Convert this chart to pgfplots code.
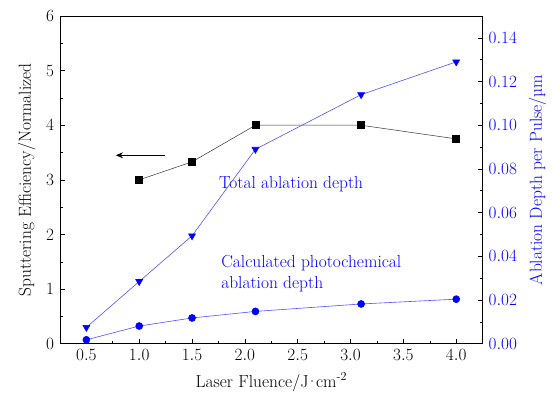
\documentclass[border=0pt]{standalone}
\usepackage{pgfplots}
\pgfplotsset{compat=1.18}
\usetikzlibrary{arrows.meta}
\definecolor{myblue}{RGB}{0,0,255}
\definecolor{lineblue}{RGB}{80,80,255}
\newcommand{\ff}{\fontsize{17.5}{21}\selectfont}
\begin{document}
\ff
\begin{tikzpicture}
\pgfplotsset{every axis/.append style={
  scale only axis, width=423bp, height=328bp,
  xmin=0.25, xmax=4.25,
  tick align=inside,
  axis line style={line width=0.8bp},
  major tick length=5bp, minor tick length=3bp,
  every tick/.style={black, line width=0.6bp},
  tick label style={font=\ff},
  label style={font=\ff},
}}
\begin{axis}[
  ymin=0, ymax=6,
  ytick={0,1,2,3,4,5,6},
  minor y tick num=1,
  xtick={0.5,1.0,1.5,2.0,2.5,3.0,3.5,4.0},
  minor x tick num=1,
  xticklabel style={/pgf/number format/fixed, /pgf/number format/fixed zerofill, /pgf/number format/precision=1},
  ytick pos=left, xtick pos=bottom,
  xlabel={Laser Fluence/J\kern-2.5bp·\kern-2.5bp cm\textsuperscript{-2}},
  ylabel={Sputtering Efficiency/Normalized},
  ylabel style={yshift=-1bp},
  clip=false,
]
\addplot[black!80, line width=0.5bp, mark=square*, mark size=3.5bp, mark options={black, solid}]
  coordinates {(1.0,3.0) (1.5,3.33) (2.1,4.0) (3.1,4.0) (4.0,3.75)};
\draw[black, line width=0.6bp, -{Stealth[length=7bp,width=6bp]}] (axis cs:1.24,3.45) -- (axis cs:0.78,3.45);
\node[anchor=west, text=myblue, font=\ff] at (axis cs:1.70,2.93) {Total ablation depth};
\node[anchor=west, align=left, text=myblue, font=\ff] at (axis cs:1.72,1.29) {Calculated photochemical\\ablation depth};
\end{axis}
\begin{axis}[
  ymin=0, ymax=0.15,
  ytick={0,0.02,0.04,0.06,0.08,0.10,0.12,0.14},
  minor y tick num=1,
  axis y line*=right,
  axis x line=none,
  yticklabel style={text=myblue, /pgf/number format/fixed, /pgf/number format/fixed zerofill, /pgf/number format/precision=2},
  ylabel={Ablation Depth per Pulse/\textmu m},
  ylabel style={text=myblue},
]
\addplot[lineblue, line width=0.6bp, mark=triangle*, mark size=4bp, mark options={myblue, solid, rotate=180}]
  coordinates {(0.5,0.0075) (1.0,0.0285) (1.5,0.0494) (2.1,0.089) (3.1,0.114) (4.0,0.129)};
\addplot[lineblue, line width=0.6bp, mark=*, mark size=3.5bp, mark options={myblue, solid}]
  coordinates {(0.5,0.0018) (1.0,0.0081) (1.5,0.0118) (2.1,0.0148) (3.1,0.0182) (4.0,0.0204)};
\end{axis}
\path ([shift={(-60bp,-51bp)}]current axis.south west) rectangle ([shift={(69bp,16bp)}]current axis.north east);
\end{tikzpicture}
\end{document}
